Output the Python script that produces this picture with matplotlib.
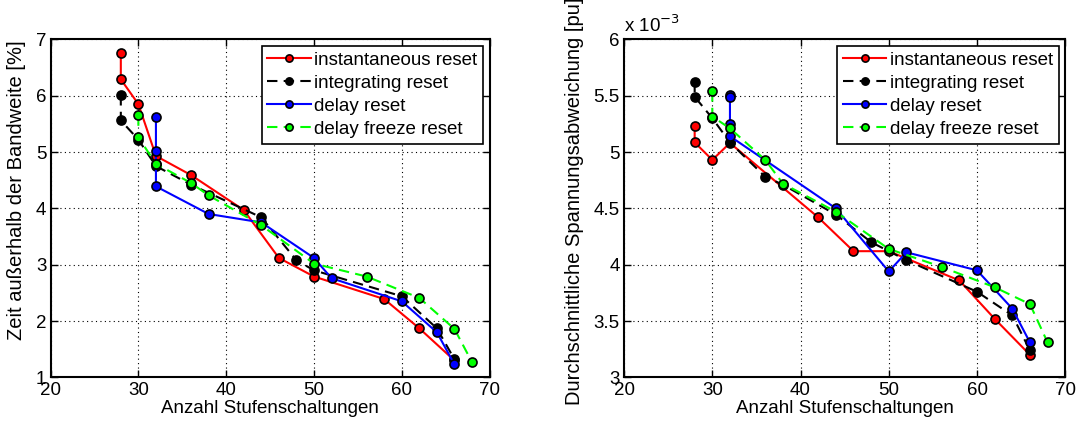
import matplotlib
matplotlib.use("Agg")
import matplotlib.pyplot as plt

plt.rcParams['font.family'] = ['Liberation Sans', 'DejaVu Sans']

labels = ["instantaneous reset", "integrating reset", "delay reset", "delay freeze reset"]

# Left panel: Zeit außerhalb der Bandweite [%]
inst_x_L = [28, 28, 30, 32, 36, 42, 46, 50, 58, 62, 66]
inst_y_L = [6.76, 6.29, 5.85, 4.93, 4.59, 3.97, 3.12, 2.79, 2.39, 1.87, 1.30]
integ_x_L = [28, 28, 30, 32, 36, 44, 48, 50, 60, 64, 66]
integ_y_L = [6.01, 5.56, 5.22, 4.75, 4.42, 3.84, 3.08, 2.90, 2.44, 1.87, 1.32]
delay_x_L = [32, 32, 32, 32, 38, 44, 50, 52, 60, 64, 66]
delay_y_L = [5.62, 5.02, 4.78, 4.39, 3.90, 3.75, 3.12, 2.76, 2.35, 1.80, 1.23]
freeze_x_L = [30, 30, 32, 36, 38, 44, 50, 56, 62, 66, 68]
freeze_y_L = [5.65, 5.26, 4.79, 4.45, 4.23, 3.70, 3.02, 2.79, 2.41, 1.86, 1.27]

# Right panel: Durchschnittliche Spannungsabweichung [pu] (x 10^-3)
inst_x_R = [28, 28, 30, 32, 42, 46, 50, 58, 62, 66]
inst_y_R = [5.235, 5.085, 4.93, 5.08, 4.42, 4.12, 4.12, 3.86, 3.52, 3.20]
integ_x_R = [28, 28, 30, 32, 36, 38, 44, 48, 52, 60, 64, 66]
integ_y_R = [5.625, 5.49, 5.30, 5.085, 4.78, 4.71, 4.445, 4.20, 4.04, 3.76, 3.55, 3.24]
delay_x_R = [32, 32, 32, 32, 44, 50, 52, 60, 64, 66]
delay_y_R = [5.51, 5.49, 5.25, 5.14, 4.50, 3.94, 4.11, 3.95, 3.61, 3.31]
freeze_x_R = [30, 30, 32, 36, 38, 44, 50, 56, 62, 66, 68]
freeze_y_R = [5.54, 5.315, 5.21, 4.93, 4.72, 4.47, 4.14, 3.98, 3.80, 3.65, 3.31]

x_ticks = [20, 30, 40, 50, 60, 70]
yL_ticks = [1, 2, 3, 4, 5, 6, 7]
yR_ticks = [3, 3.5, 4, 4.5, 5, 5.5, 6]
yR_ticklabels = ["3", "3.5", "4", "4.5", "5", "5.5", "6"]

colors = ["#ff0000", "#000000", "#0000ff", "#00ff00"]
styles = ["-", (0, (5, 3)), "-", (0, (5, 3))]

fig = plt.figure(figsize=(10.76, 4.25), dpi=100)
axL = fig.add_axes([0.047, 0.112, 0.408, 0.7955])
axR = fig.add_axes([0.580, 0.112, 0.410, 0.7955])

FS = 13.5
FSY = 14.5

def style_axes(ax):
    ax.set_xlim(20, 70)
    ax.set_xticks(x_ticks)
    ax.grid(True, color="black", linestyle=(0, (1, 3)), linewidth=0.8)
    ax.tick_params(direction="in", top=True, right=True, length=5, width=1,
                   labelsize=FS, pad=3)
    for s in ax.spines.values():
        s.set_linewidth(1.5)
    ax.set_xlabel("Anzahl Stufenschaltungen", fontsize=FS, labelpad=1)

def draw(ax, xs, ys):
    for x, y, c, ls, lab in zip(xs, ys, colors, styles, labels):
        ax.plot(x, y, color=c, linestyle=ls, linewidth=1.5, marker="o",
                markersize=6.5, markerfacecolor=c, markeredgecolor="black",
                markeredgewidth=1.2, label=lab)
    leg = ax.legend(loc="upper right", fontsize=FS, frameon=True, fancybox=False,
                    edgecolor="black", framealpha=1, handlelength=2.3,
                    handletextpad=0.2, borderpad=0.3, labelspacing=0.32,
                    borderaxespad=0.35, markerscale=0.8)
    leg.get_frame().set_linewidth(1.2)

draw(axL, [inst_x_L, integ_x_L, delay_x_L, freeze_x_L],
     [inst_y_L, integ_y_L, delay_y_L, freeze_y_L])
style_axes(axL)
axL.set_ylim(1, 7)
axL.set_yticks(yL_ticks)
axL.set_ylabel("Zeit außerhalb der Bandweite [%]", fontsize=FSY)
axL.yaxis.set_label_coords(-0.056, 0.555)

draw(axR, [inst_x_R, integ_x_R, delay_x_R, freeze_x_R],
     [inst_y_R, integ_y_R, delay_y_R, freeze_y_R])
style_axes(axR)
axR.set_ylim(3, 6)
axR.set_yticks(yR_ticks)
axR.set_yticklabels(yR_ticklabels)
axR.set_ylabel("Durchschnittliche Spannungsabweichung [pu]", fontsize=FSY)
axR.yaxis.set_label_coords(-0.09, 0.52)
axR.text(0.0, 1.01, r"x 10$^{-3}$", transform=axR.transAxes, fontsize=FS,
         ha="left", va="bottom")

fig.savefig("out.png", dpi=100)
